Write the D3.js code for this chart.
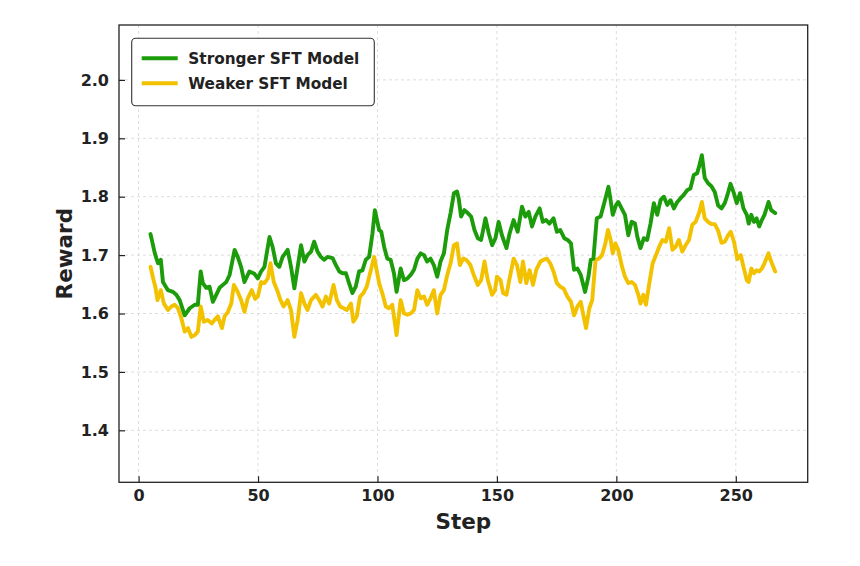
<!DOCTYPE html>
<html>
<head>
<meta charset="utf-8">
<script src="https://cdn.jsdelivr.net/npm/d3@7"></script>
<style>
  html, body { margin: 0; padding: 0; background: #fff; }
  svg { display: block; }
  text { font-family: "DejaVu Sans", sans-serif; font-weight: bold; fill: #222; }
</style>
</head>
<body>
<svg id="chart" width="860" height="566"></svg>
<script>
// ---------------- data ----------------
const strongerSteps = [5,6.8,8.1,9.3,10.2,12.3,14.4,15.8,17.2,19.3,21.4,23.5,24.8,26,26.9,28.3,29.7,31.1,32.5,33.9,35.3,36.7,38.1,40.2,41.5,42.9,44.3,46.4,48.5,49.9,51.3,52.7,54.8,56.1,57.5,58.9,60.3,62.4,63.8,65.2,66.6,68,69.4,70.7,72.2,73.5,74.9,76.3,77.7,79.1,81.2,82.6,84,85.4,86.8,88.1,89.5,90.9,92.3,93.7,95.1,96.5,97.9,98.9,100.7,101.6,102.8,104.1,105.5,106.9,108,109.7,111.1,112.5,113.9,115.3,116.7,118.1,119.5,120.8,122.2,123.6,125,126.4,127.8,129.2,130.6,132,133.3,134,135,136.4,137.8,139.2,140.6,142,143.4,145.2,146.6,148,149.4,150.7,152.1,154,155.3,157,158.7,160.5,161.9,163.3,164.7,166.1,167.9,169.2,170.6,172,173.7,175.1,176.5,178.2,179.6,181,182.3,183.7,185.1,186.9,188.3,189.3,190.4,191.8,193.4,194.9,196.7,197.6,198.5,199.9,200.8,202.2,203.6,205,206.4,207.8,208.8,210.1,211.5,212.9,214.3,215.7,217.1,218.5,219.9,221.3,222.7,224.1,225.5,226.8,228.2,229.6,231,232.4,233.8,234.6,235.8,237,238.4,239.8,241.2,242.6,244,245.4,246.5,247.8,249.2,250.4,251.8,253.2,254.6,255.4,256.5,257.6,258.7,259.8,260.9,262,263.7,264.8,266.5];
const strongerValues = [1.736,1.703,1.686,1.692,1.654,1.640,1.637,1.632,1.623,1.597,1.609,1.615,1.615,1.672,1.652,1.644,1.646,1.620,1.632,1.644,1.649,1.654,1.666,1.709,1.697,1.680,1.654,1.672,1.668,1.660,1.672,1.680,1.731,1.714,1.686,1.680,1.697,1.709,1.680,1.643,1.680,1.717,1.689,1.700,1.706,1.723,1.706,1.697,1.692,1.697,1.695,1.683,1.672,1.669,1.669,1.652,1.635,1.646,1.672,1.674,1.692,1.697,1.737,1.777,1.743,1.740,1.714,1.694,1.692,1.669,1.637,1.677,1.657,1.660,1.666,1.675,1.694,1.703,1.700,1.689,1.694,1.683,1.663,1.689,1.703,1.743,1.772,1.806,1.809,1.797,1.766,1.777,1.772,1.766,1.743,1.729,1.726,1.763,1.737,1.717,1.729,1.757,1.734,1.712,1.737,1.760,1.740,1.783,1.766,1.774,1.749,1.766,1.780,1.757,1.760,1.754,1.763,1.740,1.743,1.729,1.726,1.720,1.675,1.677,1.666,1.637,1.663,1.692,1.694,1.763,1.766,1.789,1.817,1.794,1.769,1.786,1.791,1.780,1.769,1.734,1.757,1.754,1.731,1.712,1.729,1.726,1.754,1.789,1.769,1.794,1.800,1.786,1.794,1.780,1.791,1.797,1.803,1.811,1.814,1.837,1.840,1.851,1.871,1.832,1.823,1.818,1.808,1.785,1.780,1.789,1.803,1.822,1.806,1.789,1.806,1.780,1.769,1.754,1.769,1.757,1.763,1.749,1.760,1.769,1.791,1.777,1.772];

const weakerSteps = [5,6.1,7,7.9,9.3,10.6,12.3,13.7,15.1,16.5,17.9,19.3,20.7,22.1,23.5,24.8,26,27.3,28.9,30.7,31.8,33.2,34.9,36,37.4,38.8,39.9,41.5,42.9,44.3,45.7,47.4,48.8,49.9,51.3,52.7,54.1,55.2,56.6,58,59.4,60.7,62.4,63.8,65.2,66.6,68,69.4,70.7,72.2,74.2,75.6,77,78.4,79.8,81.6,83,84.4,85.8,87.2,88.9,89.9,91.3,92.7,94.1,95.5,96.9,98.6,100.7,102,103.5,104.8,106.2,108,109.7,111.1,112.5,113.9,115.3,116.7,118.1,119.5,120.8,122.2,123.6,125,126.4,127.8,129.2,130.6,132,133.3,134.5,135.9,137.4,138.9,140.3,142,143.4,144.8,146.2,148,149.2,150,151.5,152.6,154,155.3,157,158.4,159.8,160.9,162.3,163.7,165.1,166.5,168.2,169.6,170.9,172.3,173.7,175.1,176.5,177.9,179.5,181,182.3,183.7,185.1,186.2,187.3,188.7,189.9,191.3,192.7,194,195.4,196.5,197.6,198.5,199.6,200.8,202.2,203.6,205,206.4,207.8,209.2,210.1,211.3,212.4,213.8,215.2,216.6,217.9,219.3,220.7,222.1,223.5,224.8,226.2,227.6,229,230.4,231.8,233.2,234.6,235.8,237,238.4,239.8,241.2,242.6,244,245.4,246.8,247.9,249.3,250.6,252.1,253.2,254.6,255.4,256.5,257.6,258.7,259.8,260.9,262,263.7,264.8,266.5];
const weakerValues = [1.680,1.660,1.646,1.623,1.640,1.617,1.606,1.612,1.615,1.609,1.592,1.569,1.575,1.560,1.563,1.569,1.612,1.586,1.589,1.583,1.589,1.595,1.575,1.595,1.603,1.617,1.649,1.637,1.623,1.603,1.626,1.640,1.625,1.629,1.654,1.652,1.660,1.686,1.654,1.640,1.623,1.612,1.623,1.606,1.560,1.589,1.635,1.617,1.606,1.623,1.632,1.623,1.612,1.629,1.617,1.649,1.623,1.612,1.609,1.606,1.617,1.586,1.595,1.629,1.635,1.646,1.669,1.697,1.652,1.635,1.612,1.609,1.615,1.563,1.623,1.600,1.598,1.600,1.606,1.640,1.626,1.629,1.615,1.626,1.640,1.600,1.632,1.640,1.666,1.686,1.717,1.720,1.683,1.694,1.691,1.683,1.666,1.649,1.657,1.689,1.657,1.632,1.640,1.663,1.657,1.635,1.632,1.660,1.694,1.683,1.654,1.689,1.652,1.674,1.649,1.675,1.689,1.692,1.694,1.686,1.672,1.652,1.646,1.643,1.629,1.620,1.597,1.612,1.620,1.597,1.575,1.609,1.623,1.692,1.694,1.700,1.720,1.743,1.726,1.703,1.720,1.709,1.683,1.663,1.652,1.654,1.649,1.632,1.617,1.632,1.615,1.652,1.686,1.700,1.714,1.726,1.723,1.746,1.709,1.714,1.726,1.706,1.717,1.726,1.752,1.757,1.772,1.791,1.763,1.757,1.753,1.753,1.742,1.721,1.723,1.734,1.740,1.722,1.693,1.700,1.680,1.657,1.654,1.677,1.669,1.674,1.672,1.677,1.686,1.703,1.689,1.672];

const seriesNames = ["Stronger SFT Model", "Weaker SFT Model"];
const seriesColors = ["#1c9c0b", "#f2c200"];
const xTicks = [0, 50, 100, 150, 200, 250];
const yTicks = [1.4, 1.5, 1.6, 1.7, 1.8, 1.9, 2.0];
const xLabel = "Step";
const yLabel = "Reward";

// ---------------- layout ----------------
const svg = d3.select("#chart");
const L = 119, R = 807.7, T = 25, B = 482.3;

const x = d3.scaleLinear().domain([-8.2, 280.1]).range([L, R]);
const y = d3.scaleLinear().domain([1.311, 2.094]).range([B, T]);

// grid
const grid = svg.append("g");
grid.selectAll("line.gx").data(xTicks).enter().append("line")
  .attr("x1", d => x(d)).attr("x2", d => x(d)).attr("y1", T).attr("y2", B)
  .attr("stroke", "#d9d9d9").attr("stroke-width", 0.9).attr("stroke-dasharray", "3,3");
grid.selectAll("line.gy").data(yTicks).enter().append("line")
  .attr("y1", d => y(d)).attr("y2", d => y(d)).attr("x1", L).attr("x2", R)
  .attr("stroke", "#d9d9d9").attr("stroke-width", 0.9).attr("stroke-dasharray", "3,3");

// lines
const line = d3.line().x(d => x(d[0])).y(d => y(d[1]));
const series = [
  d3.zip(strongerSteps, strongerValues),
  d3.zip(weakerSteps, weakerValues)
];
[1, 0].forEach(i => {
  svg.append("path").datum(series[i])
    .attr("d", line)
    .attr("fill", "none")
    .attr("stroke", seriesColors[i])
    .attr("stroke-width", 3.9)
    .attr("stroke-linejoin", "round")
    .attr("stroke-linecap", "round");
});

// axes (ticks inward)
const xAxis = d3.axisBottom(x).tickValues(xTicks).tickSize(-6).tickPadding(10).tickFormat(d3.format("d"));
const yAxis = d3.axisLeft(y).tickValues(yTicks).tickSize(-6).tickPadding(10).tickFormat(d3.format(".1f"));

const gx = svg.append("g").attr("transform", `translate(0,${B})`).call(xAxis);
const gy = svg.append("g").attr("transform", `translate(${L},0)`).call(yAxis);
[gx, gy].forEach(g => {
  g.select(".domain").remove();
  g.selectAll(".tick line").attr("stroke", "#222").attr("stroke-width", 1.2);
  g.selectAll(".tick text").attr("font-size", 16).attr("font-family", "DejaVu Sans").attr("font-weight", "bold").attr("fill", "#222");
});
gx.selectAll(".tick text").attr("dy", "0.71em").attr("y", 7);

// frame
svg.append("rect").attr("x", L).attr("y", T).attr("width", R - L).attr("height", B - T)
  .attr("fill", "none").attr("stroke", "#222").attr("stroke-width", 1.3);

// axis labels
svg.append("text").attr("x", (L + R) / 2).attr("y", 529).attr("text-anchor", "middle")
  .attr("font-size", 21.5).text(xLabel);
svg.append("text").attr("transform", `translate(72,${(T + B) / 2}) rotate(-90)`).attr("text-anchor", "middle")
  .attr("font-size", 21.5).text(yLabel);

// legend
const lg = svg.append("g");
lg.append("rect").attr("x", 131.7).attr("y", 38.3).attr("width", 242.6).attr("height", 67.4)
  .attr("rx", 4).attr("fill", "#fff").attr("stroke", "#333").attr("stroke-width", 1.1);
seriesNames.forEach((name, i) => {
  const yy = 58.3 + i * 25;
  lg.append("line").attr("x1", 141.7).attr("x2", 177.7).attr("y1", yy).attr("y2", yy)
    .attr("stroke", seriesColors[i]).attr("stroke-width", 3.9);
  lg.append("text").attr("x", 188.3).attr("y", yy + 5.5).attr("font-size", 15.3).text(name);
});
</script>
</body>
</html>
